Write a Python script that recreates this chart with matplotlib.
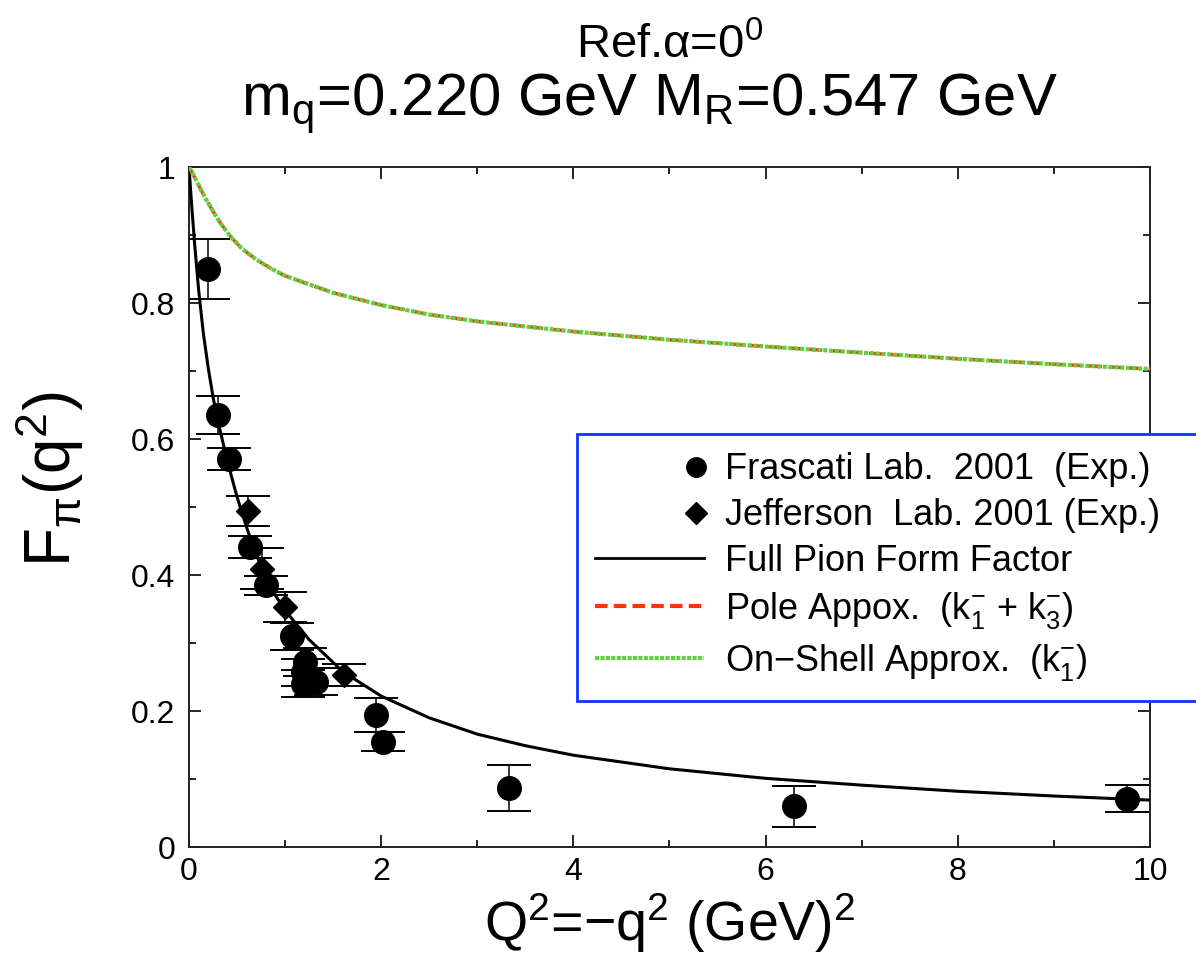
import numpy as np
import matplotlib
matplotlib.use('Agg')
import matplotlib.pyplot as plt
from matplotlib.lines import Line2D
from matplotlib.legend_handler import HandlerLine2D
from matplotlib.ticker import MultipleLocator, FuncFormatter

plt.rcParams['font.family'] = ['Liberation Sans', 'DejaVu Sans']
plt.rcParams['mathtext.fontset'] = 'custom'
plt.rcParams['mathtext.rm'] = 'Liberation Sans'
plt.rcParams['mathtext.it'] = 'Liberation Sans'
plt.rcParams['mathtext.sf'] = 'Liberation Sans'

# Frascati Lab. 2001 data (circles)
frascati_q2 = [0.20, 0.30, 0.42, 0.64, 0.80, 1.07, 1.21, 1.19, 1.19, 1.32, 1.95, 2.02, 3.33, 6.30, 9.76]
frascati_f = [0.850, 0.635, 0.571, 0.441, 0.385, 0.310, 0.272, 0.257, 0.240, 0.243, 0.194, 0.155, 0.087, 0.060, 0.071]
frascati_err = [0.044, 0.028, 0.016, 0.016, 0.014, 0.020, 0.020, 0.020, 0.020, 0.020, 0.025, 0.014, 0.034, 0.030, 0.020]

# Jefferson Lab. 2001 data (diamonds)
jlab_q2 = [0.61, 0.76, 1.00, 1.61]
jlab_f = [0.494, 0.409, 0.353, 0.253]
jlab_err = [0.022, 0.030, 0.022, 0.016]

# full pion form factor
full_q2 = [0, 0.03, 0.06, 0.1, 0.15, 0.2, 0.25, 0.3, 0.4, 0.5, 0.6, 0.7, 0.8, 0.9, 1.0, 1.25, 1.6, 2.0,
           2.5, 3.0, 3.5, 4.0, 5.0, 6.0, 7.0, 8.0, 9.0, 10.0]
full_f = [1.0, 0.94, 0.885, 0.82, 0.755, 0.705, 0.662, 0.627, 0.567, 0.515, 0.47, 0.43, 0.397, 0.37, 0.348,
          0.305, 0.258, 0.222, 0.19, 0.166, 0.149, 0.135, 0.115, 0.101, 0.091, 0.082, 0.075, 0.069]

# pole approx (k1 + k3) and on-shell approx (k1)
approx_q2 = [0, 0.04, 0.08, 0.13, 0.18, 0.25, 0.33, 0.43, 0.55, 0.7, 0.85, 1.0, 1.5, 2.0, 2.5, 3.0,
             4.0, 5.0, 6.0, 7.0, 8.0, 9.0, 10.0]
pole_f = [1.0, 0.99, 0.979, 0.965, 0.952, 0.935, 0.917, 0.898, 0.880, 0.864, 0.851, 0.840, 0.815, 0.797,
          0.783, 0.773, 0.758, 0.746, 0.736, 0.727, 0.718, 0.710, 0.703]
onshell_f = [1.0, 0.99, 0.979, 0.965, 0.952, 0.935, 0.917, 0.898, 0.880, 0.864, 0.851, 0.840, 0.815, 0.797,
             0.783, 0.773, 0.758, 0.746, 0.736, 0.727, 0.718, 0.710, 0.703]

red = '#ff3300'
green = '#66cc44'


class RightMarkerHandler(HandlerLine2D):
    # line across the handle, marker sitting at its right end
    def create_artists(self, legend, orig_handle, xdescent, ydescent, width, height, fontsize, trans):
        y = (height - ydescent) / 2
        line = Line2D([-xdescent, -xdescent + width], [y, y])
        self.update_prop(line, orig_handle, legend)
        line.set_marker('')
        mk = Line2D([-xdescent + width - 0.2 * fontsize], [y])
        self.update_prop(mk, orig_handle, legend)
        mk.set_linestyle('none')
        line.set_transform(trans)
        mk.set_transform(trans)
        return [line, mk]


fig = plt.figure(figsize=(11.96, 9.56), dpi=100)
ax = fig.add_axes([0.158, 0.114, 0.8035, 0.7113])

ax.plot(full_q2, full_f, color='k', lw=2.2, zorder=3)
ax.plot(approx_q2, pole_f, color=red, lw=2.4, ls=(0, (4, 2)), zorder=4)
ax.plot(approx_q2, onshell_f, color=green, lw=3.0, ls=(0, (1, 0.4)), zorder=5)

ax.errorbar(frascati_q2, frascati_f, yerr=frascati_err, fmt='o', ms=17, color='k',
            ecolor='k', elinewidth=1.1, capsize=16, capthick=1.4, zorder=6)
ax.errorbar(jlab_q2, jlab_f, yerr=jlab_err, fmt='D', ms=12.5, color='k',
            ecolor='k', elinewidth=1.1, capsize=16, capthick=1.4, zorder=6)

ax.set_xlim(0, 10)
ax.set_ylim(0, 1)
ax.xaxis.set_major_locator(MultipleLocator(2))
ax.xaxis.set_minor_locator(MultipleLocator(1))
ax.yaxis.set_major_locator(MultipleLocator(0.2))
ax.yaxis.set_minor_locator(MultipleLocator(0.1))
ax.yaxis.set_major_formatter(FuncFormatter(lambda v, p: '%g' % round(v, 3)))
ax.tick_params(which='both', direction='in', top=True, right=True, width=1.2)
ax.tick_params(which='major', length=8.5, labelsize=23, pad=10)
ax.tick_params(axis='x', which='major', pad=7)
ax.tick_params(which='minor', length=5)
for s in ax.spines.values():
    s.set_linewidth(1.4)
    s.set_color('#222222')

ax.set_xlabel('Q$^2$=\u2212q$^2$ (GeV)$^2$', fontsize=40)
ax.xaxis.set_label_coords(0.5, -0.066)
ax.set_ylabel('F$_{\\pi}$(q$^2$)', fontsize=46)
ax.yaxis.set_label_coords(-0.107, 0.54)

fig.text(0.56, 0.939, 'Ref.$\\alpha$=0$^0$', fontsize=34, ha='center', va='baseline')
fig.text(0.543, 0.879, 'm$_{q}$=0.220 GeV M$_{R}$=0.547 GeV', fontsize=43, ha='center', va='baseline')

handles = [
    Line2D([], [], marker='o', ls='none', color='k', ms=14),
    Line2D([], [], marker='D', ls='none', color='k', ms=11),
    Line2D([], [], color='k', lw=2),
    Line2D([], [], color=red, lw=3, ls=(0, (3, 1.5))),
    Line2D([], [], color=green, lw=3, ls=(0, (1, 0.3))),
]
labels = [
    'Frascati Lab.  2001  (Exp.)',
    'Jefferson  Lab. 2001 (Exp.)',
    'Full Pion Form Factor',
    'Pole Appox.  (k$^{-}_{1}$ + k$^{-}_{3}$)',
    'On\u2212Shell Approx.  (k$^{-}_{1}$)',
]
leg = ax.legend(handles, labels, loc='upper left', bbox_to_anchor=(0.404, 0.0, 0.66, 0.607),
                mode='expand', borderaxespad=0, fontsize=26, handlelength=3.0,
                handletextpad=0.6, borderpad=0.5, labelspacing=0.3, fancybox=False,
                framealpha=1, handler_map={Line2D: RightMarkerHandler()})
leg.get_frame().set_edgecolor('#1133ff')
leg.get_frame().set_linewidth(2)
leg.set_zorder(10)

fig.savefig('out.png', dpi=100)
